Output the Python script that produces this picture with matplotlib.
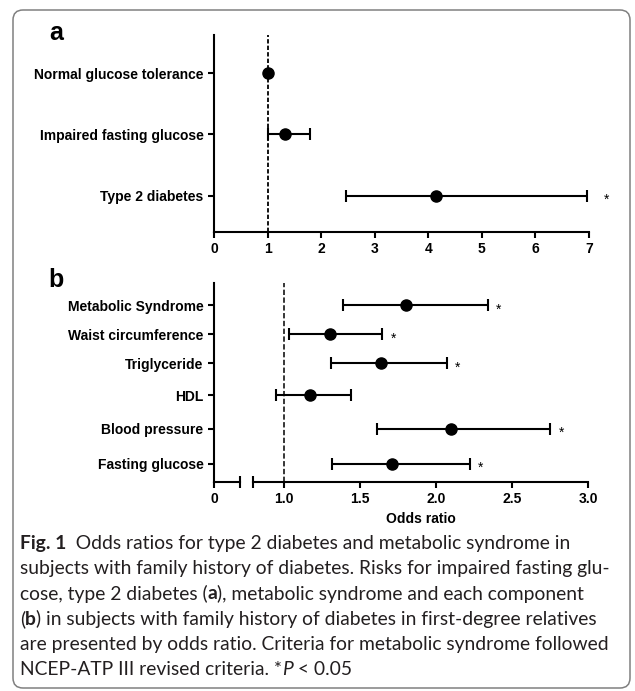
import numpy as np
import matplotlib
matplotlib.use('Agg')
from matplotlib import pyplot as plt
from matplotlib.patches import FancyBboxPatch
from matplotlib.transforms import IdentityTransform

# panel a
catsA = ['Normal glucose tolerance', 'Impaired fasting glucose', 'Type 2 diabetes']
orA = [1.0, 1.33, 4.15]
loA = [1.0, 1.0, 2.47]
hiA = [1.0, 1.80, 6.97]
sigA = [False, False, True]

# panel b
catsB = ['Metabolic Syndrome', 'Waist circumference', 'Triglyceride', 'HDL',
         'Blood pressure', 'Fasting glucose']
orB = [1.80, 1.30, 1.64, 1.17, 2.10, 1.71]
loB = [1.39, 1.03, 1.31, 0.95, 1.61, 1.315]
hiB = [2.34, 1.645, 2.07, 1.44, 2.75, 2.22]
sigB = [True, True, True, False, True, True]

ticksA = [0, 1, 2, 3, 4, 5, 6, 7]
ticksB = [1.0, 1.5, 2.0, 2.5, 3.0]
tickLabelsB = ['1.0', '1.5', '2.0', '2.5', '3.0']

W, H = 635, 691
plt.rcParams['font.family'] = ['Liberation Sans', 'DejaVu Sans']
fig = plt.figure(figsize=(W / 100, H / 100), dpi=100)


def px_axes(x0, y0, x1, y1):
    # pixel box (top-left origin) -> figure axes
    return fig.add_axes([x0 / W, 1 - y1 / H, (x1 - x0) / W, (y1 - y0) / H])


def style(ax):
    for s in ['top', 'right']:
        ax.spines[s].set_visible(False)
    for s in ['left', 'bottom']:
        ax.spines[s].set_linewidth(1.5)
    ax.tick_params(width=1.5, length=4, labelsize=10)
    for lab in ax.get_xticklabels() + ax.get_yticklabels():
        lab.set_fontweight('bold')


# ---- panel a
axA = px_axes(214, 35, 589, 232)
yA = np.arange(len(catsA))
axA.axvline(1, color='black', lw=1.3, ls=(0, (2.4, 1.2)), zorder=1)
for i in range(len(catsA)):
    if hiA[i] > loA[i]:
        axA.errorbar(orA[i], yA[i], xerr=[[orA[i] - loA[i]], [hiA[i] - orA[i]]],
                     fmt='o', color='black', ms=8, elinewidth=1.5, capsize=4.3,
                     capthick=1.5, zorder=3)
    else:
        axA.plot(orA[i], yA[i], 'o', color='black', ms=8, zorder=3)
    if sigA[i]:
        axA.annotate('*', (hiA[i], yA[i]), xytext=(12, -3), textcoords='offset points',
                     ha='left', va='center', fontsize=10, annotation_clip=False)
axA.set_xlim(0, 7)
axA.set_ylim(len(catsA) - 1 + 0.59, -0.62)
axA.set_xticks(ticksA)
axA.set_yticks(yA)
axA.set_yticklabels(catsA)
style(axA)
fig.text(56 / W, 1 - 33 / H, 'a', fontsize=18, fontweight='bold', ha='center', va='center')

# ---- panel b (broken x axis)
rowsB = [0, 1, 2, 3.1, 4.25, 5.45]
ylimB = (5.45 + 0.62, -0.76)
axL = px_axes(214, 283, 240, 482)
axR = px_axes(252.7, 283, 588.3, 482)
axL.set_xlim(0, 0.171)
axL.set_xticks([0])
axL.set_ylim(*ylimB)
axL.set_yticks(rowsB)
axL.set_yticklabels(catsB)
style(axL)

axR.set_xlim(0.794, 3.0)
axR.set_ylim(*ylimB)
axR.set_xticks(ticksB)
axR.set_xticklabels(tickLabelsB)
axR.set_yticks([])
axR.spines['left'].set_visible(False)
style(axR)
axR.axvline(1, color='black', lw=1.1, ls=(0, (3.5, 1.6)), zorder=1)
for i in range(len(catsB)):
    axR.errorbar(orB[i], rowsB[i], xerr=[[orB[i] - loB[i]], [hiB[i] - orB[i]]],
                 fmt='o', color='black', ms=8, elinewidth=1.5, capsize=4.3,
                 capthick=1.5, zorder=3)
    if sigB[i]:
        axR.annotate('*', (hiB[i], rowsB[i]), xytext=(6, -3), textcoords='offset points',
                     ha='left', va='center', fontsize=10, annotation_clip=False)
# break marks
axL.plot([1], [0], marker='|', ms=8, mew=1.5, color='black',
         transform=axL.transAxes, clip_on=False)
axR.plot([0], [0], marker='|', ms=8, mew=1.5, color='black',
         transform=axR.transAxes, clip_on=False)
axR.set_xlabel('Odds ratio', fontsize=10, fontweight='bold', labelpad=4)
fig.text(56 / W, 1 - 280 / H, 'b', fontsize=18, fontweight='bold', ha='center', va='center')

# ---- rounded frame
frame = FancyBboxPatch((13, 3), 617, 678, boxstyle='round,pad=0,rounding_size=10',
                       transform=IdentityTransform(), fill=False, ec='#808080', lw=1.1)
fig.patches.append(frame)

# ---- caption
capFont = ['Lato', 'DejaVu Sans']
capColor = '#231f20'
renderer = fig.canvas.get_renderer()
lines = [
    [('Fig. 1', {'fontweight': 'bold'}), ('  Odds ratios for type 2 diabetes and metabolic syndrome in', {})],
    [('subjects with family history of diabetes. Risks for impaired fasting glu-', {})],
    [('cose, type 2 diabetes (', {}), ('a', {'fontweight': 'bold'}),
     ('), metabolic syndrome and each component', {})],
    [('(', {}), ('b', {'fontweight': 'bold'}),
     (') in subjects with family history of diabetes in first-degree relatives', {})],
    [('are presented by odds ratio. Criteria for metabolic syndrome followed', {})],
    [('NCEP-ATP III revised criteria. *', {}), ('P', {'fontstyle': 'italic'}), (' < 0.05', {})],
]
probe = fig.text(0, 0, lines[1][0][0], fontsize=12, family=capFont)
capSize = 12 * 588 / probe.get_window_extent(renderer).width
probe.remove()

yLine = 543
for parts in lines:
    x = 20
    for txt, kw in parts:
        t = fig.text(x / W, 1 - yLine / H, txt, fontsize=capSize, family=capFont,
                     color=capColor, ha='left', va='center', **kw)
        x += t.get_window_extent(renderer).width
    yLine += 25.4

fig.savefig('out.png', dpi=100)
